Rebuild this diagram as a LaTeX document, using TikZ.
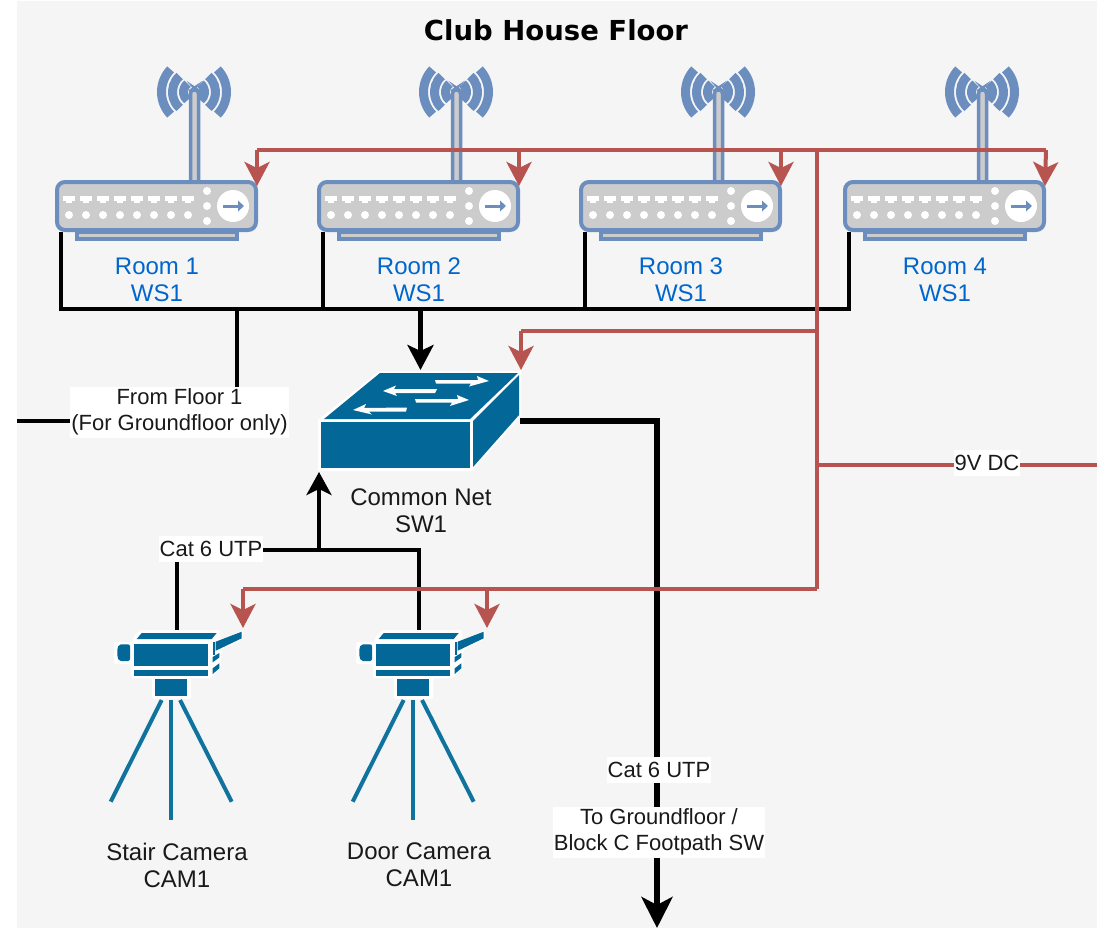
\documentclass[tikz,border=0pt]{standalone}
\usepackage{fontspec}
\setmainfont{Liberation Sans}
\newfontfamily\titlefont{DejaVu Sans}
\usetikzlibrary{arrows.meta,calc}
\definecolor{bgc}{HTML}{F5F5F5}
\definecolor{rblue}{HTML}{6C8EBF}
\definecolor{rfill}{HTML}{CCCCCC}
\definecolor{redl}{HTML}{B85450}
\definecolor{swb}{HTML}{036897}
\definecolor{leg}{HTML}{10739E}
\definecolor{lblue}{HTML}{0066CC}
\tikzset{
  x=1pt,y=-1pt,
  txt/.style={font=\fontsize{24}{27}\selectfont,align=center,text=black!90,inner sep=0pt},
  roomlbl/.style={txt,text=lblue},
  wlbl/.style={font=\fontsize{22}{26}\selectfont,align=center,text=black!90,fill=white,inner xsep=1pt,inner ysep=0pt},
  pw/.style={draw=redl,line width=4pt,line join=miter},
  pwa/.style={pw,-{Stealth[length=24pt,width=25pt,inset=6pt]}},
  net/.style={draw=black,line width=4pt},
  neta/.style={net,-{Stealth[length=23pt,width=25pt,inset=6pt]}},
  netb/.style={draw=black,line width=5pt,-{Stealth[length=25pt,width=26pt,inset=6pt]}},
  thick6/.style={draw=black,line width=6pt,-{Stealth[length=31pt,width=31pt,inset=8pt]}},
  wave/.style={draw=rblue},
  rbody/.style={draw=rblue,fill=rfill,line width=4pt,rounded corners=8pt},
  camf/.style={fill=swb,draw=none},
  legl/.style={draw=leg,line width=4pt}
}
\newcommand{\routerIcon}[2]{%
\begin{scope}[shift={(#1,0)}]
  \coordinate (#2c) at (194,92);
  \foreach \r/\w/\a in {10.5/9/52,21.5/9/48,32.5/9/44}{
    \draw[wave,line width=\w pt] ([shift={(180-\a:\r pt)}]#2c) arc[start angle=180-\a,end angle=180+\a,radius=\r pt];
    \draw[wave,line width=\w pt] ([shift={(\a:\r pt)}]#2c) arc[start angle=\a,end angle=-\a,radius=\r pt];
  }
  \fill[rfill,draw=rblue,line width=4pt] (77,232) rectangle (237,239);
  \draw[rblue,fill=rfill,line width=3.5pt,rounded corners=3pt] (190.5,182) -- (190.5,91) -- (192,90) -- (197,90) -- (198.5,91) -- (198.5,182);
  \path[rbody] (57,182) rectangle (256,230);
  \foreach \px in {69,86,103,120,137,154,171,188}{
    \fill[white] ($(\px,198)+(-6,-2.5)$) rectangle ($(\px,198)+(6,2.5)$);
    \fill[white] ($(\px,198)+(-3,2.5)$) rectangle ($(\px,198)+(3,4.5)$);
    \fill[white] (\px,215) circle[radius=4pt];
  }
  \foreach \py in {191,206,221}{\fill[white] (207,\py) circle[radius=4pt];}
  \fill[white] (233,206) circle[radius=16pt];
  \draw[rblue,line width=3pt] (223,206) -- (238,206);
  \fill[rblue] (238,200.5) -- (244,206) -- (238,211.5) -- cycle;
  \coordinate (#2pwr) at (257,186);
  \coordinate (#2net) at (61,232);
\end{scope}}
\newcommand{\camIcon}[2]{%
\begin{scope}[shift={(#1,0)}]
  \draw[legl] (161.7,700) -- (110.7,801.7);
  \draw[legl] (171,700) -- (171,820);
  \draw[legl] (180,700) -- (231.7,801.7);
  \fill[white,rounded corners=2pt] (114,642) -- (133,642) -- (133,637) -- (140,630) -- (220,630) -- (220,641) -- (243,630) -- (243,639) -- (221,650) -- (221,667) -- (211,678) -- (191,678) -- (191,699) -- (152,699) -- (152,678) -- (131,678) -- (131,664) -- (114,664) -- cycle;
  \fill[camf] (136.7,639) -- (141.7,633) -- (216.7,633) -- (211.7,639) -- cycle;
  \fill[camf] (134.3,644) rectangle (208.3,666);
  \fill[camf] (134.3,670.3) rectangle (208.3,675.7);
  \fill[camf,rounded corners=2pt] (130,644.3) -- (119,644.3) -- (117.3,648) -- (117.3,657) -- (119,661) -- (130,661) -- cycle;
  \fill[camf] (212.7,642) -- (215,642) -- (215,655) -- (212.7,655) -- cycle;
  \fill[camf] (215.7,641.7) -- (241.7,631.7) -- (241.7,638.3) -- (215.7,650.7) -- cycle;
  \fill[camf] (212.7,657) -- (219.3,653) -- (219.3,657.5) -- (212.7,662.3) -- cycle;
  \fill[camf] (212.7,668.3) -- (219.3,663.3) -- (219.3,668.3) -- (212.7,674) -- cycle;
  \fill[camf] (155,679.3) rectangle (187.3,696);
  \coordinate (#2top) at (177,630);
  \coordinate (#2pwr) at (243,628);
\end{scope}}
\begin{document}
\begin{tikzpicture}
\useasboundingbox (0,0) rectangle (1114,948);
\fill[bgc] (17,1) rectangle (1097,928);
\node[font=\titlefont\bfseries\fontsize{27.5}{30}\selectfont,inner sep=0pt] (title) at (556,30) {Club House Floor};
\routerIcon{0}{ra}
\routerIcon{262}{rb}
\routerIcon{524}{rc}
\routerIcon{788}{rd}
\node[roomlbl] (la) at (157,280) {Room 1\\WS1};
\node[roomlbl] (lb) at (419,280) {Room 2\\WS1};
\node[roomlbl] (lc) at (681,280) {Room 3\\WS1};
\node[roomlbl] (ld) at (945,280) {Room 4\\WS1};
% switch
\fill[white] (318,420) -- (379,371) -- (521,371) -- (521,416) -- (472,471) -- (318,471) -- cycle;
\fill[swb] (324,419) -- (380,373) -- (518,373) -- (470,419) -- cycle;
\fill[swb] (321,422) rectangle (470,468);
\fill[swb] (473,421) -- (519,375) -- (519,415) -- (473,467) -- cycle;
\fill[white] (435,380) -- (478,380) -- (477,376) -- (489,381) -- (469,386.5) -- (471,383.5) -- (436,383.5) -- cycle;
\fill[white] (437,389) -- (394,389) -- (396,385.5) -- (383,391) -- (397,396) -- (395,393) -- (435,393) -- cycle;
\fill[white] (415,399) -- (458,399) -- (457,395) -- (469,400) -- (450,406) -- (452,402.5) -- (416,402.5) -- cycle;
\fill[white] (407,407.5) -- (364,408) -- (366,404) -- (353,410) -- (372,414.5) -- (369,411.5) -- (406,411.5) -- cycle;
\coordinate (swTop) at (420.5,370);
\coordinate (swPwr) at (521,370);
\coordinate (swRight) at (520,421);
\coordinate (swBot) at (319,472);
\node[txt] (swl) at (421,511) {Common Net\\SW1};
% cameras
\camIcon{0}{ca}
\camIcon{242}{cb}
\node[txt] (cal) at (177,865) {Stair Camera\\CAM1};
\node[txt] (cbl) at (419,865) {Door Camera\\CAM1};
% junctions
\coordinate (busL) at (61,309);
\coordinate (busR) at (849,309);
\coordinate (pL) at (257,150);
\coordinate (pR) at (1046,150);
\coordinate (pM) at (817,150);
\coordinate (pB) at (817,589);
\coordinate (dcEnd) at (1097,465);
\coordinate (outL) at (17,421);
\coordinate (outB) at (657,928);
% black
\draw[net] (ranet) -- (busL) -- (busR) -- (rdnet);
\draw[net] (rbnet) -- (rbnet |- busL);
\draw[net] (rcnet) -- (rcnet |- busL);
\draw[net] (237,309) -- (237,421) -- (outL);
\draw[netb] (420.5,309) -- (swTop);
\draw[thick6] (swRight) -| (outB);
\draw[net] (catop) -- (177,550) -- (419,550) -- (cbtop);
\draw[neta] (319,550) -- (swBot);
% red
\draw[pw] (pL) -- (pR);
\draw[pwa] (pL) -- (rapwr);
\draw[pwa] (519,150) -- (rbpwr);
\draw[pwa] (781,150) -- (rcpwr);
\draw[pwa] (pR) -- (rdpwr);
\draw[pw] (pM) -- (pB);
\draw[pw] (pB) -- (243,589);
\draw[pwa] (243,589) -- (capwr);
\draw[pwa] (487,589) -- (487,628);
\draw[pw] (817,331) -- (521,331);
\draw[pwa] (521,331) -- (swPwr);
\draw[pw] (817,465) -- (dcEnd);
% labels
\node[wlbl,minimum width=217pt,minimum height=51pt] (fl) at (179.5,412) {From Floor 1\\(For Groundfloor only)};
\node[wlbl,minimum height=26pt] (cat1) at (211,549) {Cat 6 UTP};
\node[wlbl,minimum height=26pt] (cat2) at (659,770) {Cat 6 UTP};
\node[wlbl,minimum height=51pt] (tog) at (659,832) {To Groundfloor /\\Block C Footpath SW};
\node[wlbl,minimum height=26pt] (dc) at (987,463) {9V DC};
\end{tikzpicture}
\end{document}
